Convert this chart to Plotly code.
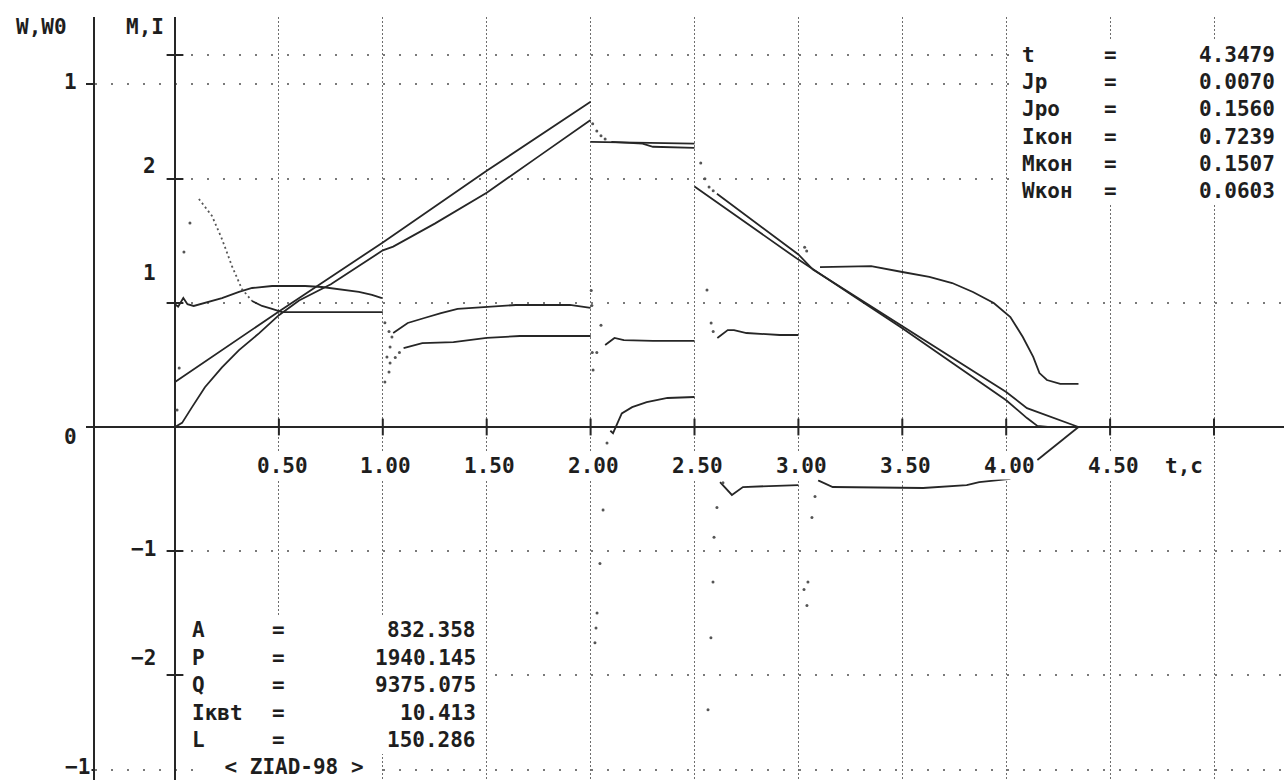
import plotly.graph_objects as go

# ------------------------------------------------------------------ data
X_GRID = [0.5, 1.0, 1.5, 2.0, 2.5, 3.0, 3.5, 4.0, 4.5, 5.0]
X_LABELS = ["0.50", "1.00", "1.50", "2.00", "2.50", "3.00", "3.50", "4.00", "4.50"]
M_TICKS = [3, 2, 1, -1, -2]
W_TICKS = [1, -1]

# W0 (reference speed), W-axis
w0_t = [0.0, 0.5, 1.0, 1.5, 2.0, None, 2.0, 2.25, 2.5, None,
        2.5, 2.75, 3.0, 3.25, 3.5, 3.75, 4.0, 4.1, 4.15, 4.2, 4.3479]
w0_v = [0.131, 0.337, 0.538, 0.747, 0.948, None, 0.831, 0.829, 0.826, None,
        0.701, 0.595, 0.488, 0.388, 0.288, 0.183, 0.078, 0.026, 0.003, 0.0, 0.0]

# W (speed), W-axis
w_t = [0.0, 0.034, 0.082, 0.144, 0.226, 0.308, 0.404, 0.5, 0.597, 0.75, 1.0, 1.05,
       1.25, 1.5, 1.75, 2.0, None, 2.1, 2.25, 2.3, 2.5, None,
       2.608, 3.0, 3.07, 3.5, 4.0, 4.1, 4.2, 4.3, 4.3479]
w_v = [0.0, 0.012, 0.058, 0.116, 0.174, 0.224, 0.273, 0.326, 0.369, 0.416, 0.515, 0.526,
       0.593, 0.683, 0.789, 0.895, None, 0.831, 0.826, 0.817, 0.814, None,
       0.680, 0.503, 0.459, 0.294, 0.102, 0.055, 0.032, 0.009, 0.0]
w_dot_t = [2.01, 2.03, 2.05, 2.07, 2.53, 2.55, 2.57, 2.59]
w_dot_v = [0.884, 0.863, 0.849, 0.840, 0.770, 0.724, 0.700, 0.689]

# M (torque), M,I-axis
m_t = [0.0, 0.015, 0.04, 0.06, 0.09, 0.106, 0.226, 0.308, 0.371, 0.467, 0.626, 0.707,
       0.789, 0.885, 0.948, 0.996, None,
       1.05, 1.12, 1.2, 1.28, 1.36, 1.5, 1.64, 1.9, 1.98, 2.0, None,
       2.095, 2.108, 2.15, 2.2, 2.27, 2.37, 2.5, None,
       2.623, 2.68, 2.733, 3.0, None,
       3.095, 3.12, 3.165, 3.6, 3.81, 3.87, 4.02, None,
       4.15, 4.25, 4.3479]
m_v = [0.99, 0.97, 1.04, 0.99, 0.976, 0.984, 1.040, 1.089, 1.121, 1.137, 1.137, 1.129,
       1.113, 1.089, 1.065, 1.040, None,
       0.758, 0.839, 0.879, 0.919, 0.952, 0.968, 0.984, 0.984, 0.968, 0.96, None,
       -0.03, -0.05, 0.11, 0.16, 0.20, 0.234, 0.242, None,
       -0.444, -0.548, -0.484, -0.468, None,
       -0.43, -0.45, -0.484, -0.492, -0.468, -0.444, -0.419, None,
       -0.266, -0.13, 0.0]
m_dot_t = [1.01, 1.03, 1.044, 2.008, 2.012, 2.021, 2.026, 2.031, 2.045, 2.06, 2.079,
           2.565, 2.579, 2.589, 2.594, 2.608, 2.637,
           3.027, 3.041, 3.046, 3.065, 3.08]
m_dot_v = [0.84, 0.77, 0.726, 0.60, 0.46, -1.74, -1.62, -1.50, -1.10, -0.67, -0.13,
           -2.28, -1.70, -1.25, -0.89, -0.65, -0.45,
           -1.31, -1.44, -1.25, -0.73, -0.56]

# I (current), M,I-axis
i_peak_t = [0.115, 0.178, 0.226, 0.274, 0.322, 0.371]
i_peak_v = [1.839, 1.702, 1.516, 1.298, 1.113, 1.016]
i_t = [0.371, 0.419, 0.467, 0.515, 0.75, 1.0, None,
       1.1, 1.19, 1.34, 1.5, 1.66, 2.0, None,
       2.07, 2.115, 2.16, 2.3, 2.5, None,
       2.61, 2.66, 2.69, 2.75, 2.91, 3.0, None,
       3.104, 3.35, 3.5, 3.63, 3.74, 3.84, 3.94, 4.02, 4.08, 4.13, 4.16, 4.196, 4.26, 4.3479]
i_v = [1.016, 0.976, 0.952, 0.927, 0.927, 0.927, None,
       0.637, 0.677, 0.685, 0.718, 0.734, 0.734, None,
       0.661, 0.718, 0.700, 0.694, 0.694, None,
       0.718, 0.782, 0.782, 0.758, 0.742, 0.742, None,
       1.29, 1.298, 1.25, 1.21, 1.161, 1.089, 1.0, 0.887, 0.726, 0.565, 0.435, 0.379, 0.347, 0.347]
i_dot_t = [0.01, 0.02, 0.043, 0.072, 1.01, 1.02, 1.03, 1.035, 1.035, 1.06, 1.08,
           2.003, 2.006, 2.03, 2.05, 2.56, 2.58, 2.59, 3.03, 3.04]
i_dot_v = [0.137, 0.476, 1.411, 1.645, 0.363, 0.565, 0.444, 0.516, 0.645, 0.56, 0.60,
           1.10, 0.98, 0.60, 0.82, 1.105, 0.839, 0.77, 1.45, 1.42]

# result tables
TR_NAMES = ["t", "Jp", "Jpo", "Iкон", "Mкон", "Wкон"]
TR_VALUES = ["4.3479", "0.0070", "0.1560", "0.7239", "0.1507", "0.0603"]
BL_NAMES = ["A", "P", "Q", "Iквt", "L"]
BL_VALUES = ["832.358", "1940.145", "9375.075", "10.413", "150.286"]
SIGNATURE = "< ZIAD-98 >"

# ------------------------------------------------------------------ geometry
W, H = 1284, 780
X0_PX, PX_PER_S = 175, 207.8
Y0_PX, PX_PER_M, PX_PER_W = 427, 124.0, 343.0
TOP_PX, LEFT_PX = 17, 95

x_range = [(LEFT_PX - X0_PX) / PX_PER_S, (W - X0_PX) / PX_PER_S]
m_range = [(Y0_PX - H) / PX_PER_M, (Y0_PX - TOP_PX) / PX_PER_M]
w_range = [(Y0_PX - H) / PX_PER_W, (Y0_PX - TOP_PX) / PX_PER_W]


def px(x):
    return x / W


def py(y):
    return (H - y) / (H - TOP_PX)


INK = "#262626"
FONT = dict(family="DejaVu Sans Mono", size=21, color="#1e1e1e", weight="bold")

fig = go.Figure()

line = dict(color=INK, width=1.8)
dot_marker = dict(color="#555555", size=3)

fig.add_trace(go.Scatter(x=w0_t, y=w0_v, yaxis="y2", mode="lines", line=line,
                         connectgaps=False, hoverinfo="skip"))
fig.add_trace(go.Scatter(x=w_t, y=w_v, yaxis="y2", mode="lines", line=line,
                         connectgaps=False, hoverinfo="skip"))
fig.add_trace(go.Scatter(x=w_dot_t, y=w_dot_v, yaxis="y2", mode="markers",
                         marker=dot_marker, hoverinfo="skip"))
fig.add_trace(go.Scatter(x=m_t, y=m_v, mode="lines", line=line,
                         connectgaps=False, hoverinfo="skip"))
fig.add_trace(go.Scatter(x=m_dot_t, y=m_dot_v, mode="markers",
                         marker=dot_marker, hoverinfo="skip"))
fig.add_trace(go.Scatter(x=i_peak_t, y=i_peak_v, mode="lines",
                         line=dict(color="#555555", width=1.8, dash="2px,3px"),
                         hoverinfo="skip"))
fig.add_trace(go.Scatter(x=i_t, y=i_v, mode="lines", line=line,
                         connectgaps=False, hoverinfo="skip"))
fig.add_trace(go.Scatter(x=i_dot_t, y=i_dot_v, mode="markers",
                         marker=dot_marker, hoverinfo="skip"))

# tick marks crossing the axes
fig.add_trace(go.Scatter(x=X_GRID, y=[0] * len(X_GRID), mode="markers",
                         marker=dict(symbol="line-ns", size=12,
                                     line=dict(color=INK, width=2)),
                         hoverinfo="skip"))
fig.add_trace(go.Scatter(x=[0] * len(M_TICKS), y=M_TICKS, mode="markers",
                         marker=dict(symbol="line-ew", size=12,
                                     line=dict(color=INK, width=2)),
                         hoverinfo="skip"))

shapes = []
# horizontal dotted grid lines
for v in M_TICKS:
    shapes.append(dict(type="line", xref="x", yref="y", x0=0, x1=x_range[1],
                       y0=v, y1=v, layer="below",
                       line=dict(color="#7a7a7a", width=2, dash="2px,14px")))
for v in W_TICKS:
    shapes.append(dict(type="line", xref="paper", yref="y2", x0=px(LEFT_PX), x1=1,
                       y0=v, y1=v, layer="below",
                       line=dict(color="#7a7a7a", width=2, dash="2px,14px")))
# opaque text blocks (text-mode panels)
shapes.append(dict(type="rect", xref="paper", yref="paper",
                   x0=px(1012), x1=px(1281), y0=py(204), y1=py(41),
                   fillcolor="white", line=dict(width=0), layer="above"))
shapes.append(dict(type="rect", xref="paper", yref="paper",
                   x0=px(184), x1=px(482), y0=py(754), y1=py(615),
                   fillcolor="white", line=dict(width=0), layer="above"))

ann = []


def txt(text, x, y, xanchor="left", bg=None, width=None, xref="paper"):
    d = dict(text=text, x=x if xref != "paper" else px(x), y=py(y),
             xref=xref, yref="paper", xanchor=xanchor, yanchor="middle",
             showarrow=False, font=FONT, borderpad=1)
    if bg:
        d["bgcolor"] = bg
    if width:
        d["width"] = width
        d["align"] = "center"
    ann.append(d)


# axis titles
txt("W,W0", 14, 27)
txt("M,I", 124, 27)
# W axis labels
txt("1", 79, 82, "right")
txt("0", 79, 437, "right")
txt("−1", 92, 767, "right", bg="white")
# M axis labels
txt("2", 158, 166, "right")
txt("1", 158, 273, "right")
txt("−1", 158, 549, "right")
txt("−2", 158, 658, "right")
# time labels
for v, lab in zip(X_GRID, X_LABELS):
    txt(lab, v + 0.015, 466, "center", bg="white", xref="x")
txt("t,c", 1163, 466, "left", bg="white")

# top-right table
tr_rows = [55, 82, 109, 137, 164, 191]
for name, val, yy in zip(TR_NAMES, TR_VALUES, tr_rows):
    txt(name, 1020, yy, "left")
    txt("=", 1110, yy, "center")
    txt(val, 1277, yy, "right")

# bottom-left table
bl_rows = [630, 658, 685, 713, 740]
for name, val, yy in zip(BL_NAMES, BL_VALUES, bl_rows):
    txt(name, 190, yy, "left")
    txt("=", 278, yy, "center")
    txt(val, 478, yy, "right")
txt(SIGNATURE, 294, 767, "center", bg="white", width=172)

fig.update_layout(
    width=W, height=H,
    margin=dict(l=0, r=0, t=TOP_PX, b=0, pad=0),
    paper_bgcolor="white", plot_bgcolor="white",
    showlegend=False,
    xaxis=dict(domain=[px(LEFT_PX), 1], range=x_range, tickvals=X_GRID,
               showticklabels=False, ticks="", showline=False,
               showgrid=True, gridcolor="#6e6e6e", gridwidth=1, griddash="2px,2px",
               zeroline=True, zerolinecolor=INK, zerolinewidth=2, fixedrange=True),
    yaxis=dict(range=m_range, showgrid=False, showticklabels=False, ticks="",
               zeroline=True, zerolinecolor=INK, zerolinewidth=2,
               showline=False, fixedrange=True),
    yaxis2=dict(range=w_range, overlaying="y", side="left", anchor="x",
                tickvals=W_TICKS + [0], showticklabels=False, ticks="outside",
                ticklen=7, tickwidth=2, tickcolor=INK,
                showline=True, linecolor=INK, linewidth=2,
                showgrid=False, zeroline=False, fixedrange=True),
    shapes=shapes,
    annotations=ann,
)

fig.write_html("out.html", include_plotlyjs=True, config={"displayModeBar": False})
